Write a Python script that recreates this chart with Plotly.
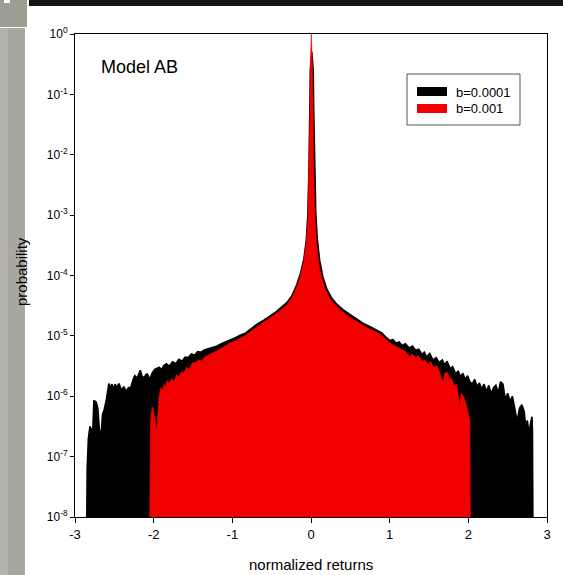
import plotly.graph_objects as go

# ---- data (x = normalized return, e = log10 probability) ----
black_x = [-2.85, -2.845, -2.83, -2.81, -2.79, -2.78, -2.76, -2.73, -2.71, -2.69, -2.67, -2.65, -2.63, -2.60,
           -2.57, -2.55, -2.53, -2.51, -2.49, -2.47, -2.44, -2.41, -2.38, -2.35, -2.32, -2.29, -2.26, -2.24,
           -2.21, -2.19, -2.17, -2.15, -2.12, -2.10, -2.08, -2.05, -2.02, -1.99, -1.96, -1.93, -1.90, -1.87,
           -1.84, -1.80, -1.76, -1.72, -1.68, -1.64, -1.60, -1.56, -1.52, -1.48, -1.44, -1.40, -1.35, -1.30,
           -1.25, -1.20, -1.14, -1.08, -1.02, -0.96, -0.90, -0.83, -0.76, -0.68, -0.60, -0.52, -0.44, -0.37,
           -0.30, -0.24, -0.18, -0.13, -0.09, -0.06, -0.04, -0.025, -0.015, -0.008, 0.01, 0.028, 0.035, 0.045,
           0.06, 0.08, 0.11, 0.15, 0.20, 0.26, 0.33, 0.41, 0.50, 0.58, 0.66, 0.74, 0.82, 0.90, 0.96, 1.00,
           1.04, 1.08, 1.12, 1.16, 1.20, 1.25, 1.29, 1.33, 1.37, 1.41, 1.44, 1.47, 1.51, 1.55, 1.59, 1.63,
           1.67, 1.70, 1.73, 1.77, 1.80, 1.84, 1.87, 1.90, 1.93, 1.96, 1.99, 2.02, 2.05, 2.08, 2.11, 2.14,
           2.17, 2.20, 2.23, 2.26, 2.29, 2.32, 2.35, 2.38, 2.41, 2.44, 2.47, 2.50, 2.53, 2.56, 2.59, 2.62,
           2.65, 2.68, 2.71, 2.73, 2.75, 2.77, 2.79, 2.81, 2.815, 2.82]
black_e = [-8.0, -7.2, -6.7, -6.5, -6.55, -6.8, -6.07, -6.1, -6.2, -6.55, -6.68, -6.3, -6.23, -6.05,
           -5.79, -5.86, -5.8, -5.88, -5.8, -5.85, -5.79, -5.9, -5.84, -5.92, -5.86, -5.85, -5.72, -5.66,
           -5.7, -5.62, -5.57, -5.66, -5.7, -5.64, -5.63, -5.72, -5.62, -5.56, -5.54, -5.52, -5.56, -5.49,
           -5.46, -5.5, -5.43, -5.46, -5.39, -5.42, -5.35, -5.36, -5.30, -5.32, -5.26, -5.27, -5.23, -5.21,
           -5.19, -5.17, -5.13, -5.10, -5.06, -5.03, -4.99, -4.95, -4.88, -4.80, -4.74, -4.67, -4.60, -4.52,
           -4.44, -4.33, -4.15, -3.95, -3.72, -3.42, -3.0, -2.2, -1.3, -0.6, -0.3, -0.6, -1.3, -2.2,
           -2.95, -3.4, -3.75, -4.02, -4.22, -4.37, -4.48, -4.57, -4.65, -4.72, -4.79, -4.84, -4.89, -4.95, -5.03, -5.08,
           -5.06, -5.12, -5.10, -5.16, -5.13, -5.20, -5.17, -5.24, -5.22, -5.31, -5.27, -5.35, -5.29, -5.40, -5.36, -5.44,
           -5.40, -5.48, -5.42, -5.55, -5.51, -5.63, -5.58, -5.68, -5.62, -5.72, -5.66, -5.76, -5.80, -5.72, -5.84, -5.78,
           -5.88, -5.80, -5.92, -5.82, -5.96, -5.86, -5.82, -5.94, -5.76, -5.80, -6.05, -5.95, -6.08, -6.00, -6.20, -6.42,
           -6.20, -6.14, -6.25, -6.52, -6.40, -6.62, -6.45, -6.34, -6.6, -8.0]

red_x = [-2.05, -2.047, -2.04, -2.025, -2.01, -1.995, -1.975, -1.96, -1.945, -1.93, -1.91, -1.89, -1.87, -1.85,
         -1.83, -1.80, -1.77, -1.74, -1.71, -1.68, -1.65, -1.62, -1.58, -1.55, -1.51, -1.47, -1.43, -1.39,
         -1.35, -1.30, -1.25, -1.20, -1.14, -1.08, -1.02, -0.96, -0.90, -0.83, -0.76, -0.68, -0.60, -0.52,
         -0.44, -0.37, -0.30, -0.24, -0.18, -0.13, -0.09, -0.06, -0.04, -0.025, -0.015, -0.008, 0.005, 0.018,
         0.025, 0.035, 0.05, 0.07, 0.10, 0.14, 0.19, 0.25, 0.32, 0.40, 0.49, 0.58, 0.66, 0.74, 0.82, 0.90,
         0.96, 1.02, 1.08, 1.14, 1.20, 1.25, 1.29, 1.33, 1.37, 1.41, 1.45, 1.49, 1.52, 1.56, 1.60, 1.63,
         1.66, 1.68, 1.70, 1.73, 1.76, 1.79, 1.82, 1.85, 1.88, 1.89, 1.91, 1.94, 1.97, 2.00, 2.02, 2.025]
red_e = [-8.0, -7.0, -6.45, -6.22, -6.18, -6.3, -6.5, -6.56, -6.25, -6.0, -5.86, -5.9, -5.8, -5.85,
         -5.74, -5.78, -5.71, -5.75, -5.64, -5.68, -5.6, -5.62, -5.52, -5.55, -5.45, -5.44, -5.40, -5.41,
         -5.35, -5.31, -5.28, -5.25, -5.20, -5.16, -5.11, -5.08, -5.04, -4.99, -4.92, -4.84, -4.77, -4.70,
         -4.63, -4.56, -4.47, -4.36, -4.18, -3.98, -3.75, -3.45, -3.05, -2.3, -1.4, -0.5, 0.0, -0.5,
         -1.4, -2.3, -3.0, -3.45, -3.8, -4.06, -4.25, -4.4, -4.5, -4.6, -4.69, -4.76, -4.83, -4.88, -4.93, -4.99,
         -5.07, -5.13, -5.17, -5.21, -5.26, -5.34, -5.30, -5.36, -5.33, -5.42, -5.40, -5.48, -5.42, -5.52, -5.50, -5.58,
         -5.70, -5.78, -5.62, -5.60, -5.68, -5.72, -5.82, -5.80, -6.05, -6.18, -5.95, -6.0, -6.12, -6.28, -6.40, -8.0]

series_names = ["b=0.0001", "b=0.001"]
series_colors = ["#000000", "#f20000"]
x_ticks = [-3, -2, -1, 0, 1, 2, 3]
y_exponents = [0, -1, -2, -3, -4, -5, -6, -7, -8]

black_p = [10 ** v for v in black_e]
red_p = [10 ** v for v in red_e]

W, H = 563, 575
# plot area in window pixels: x 75..547, y 34..517
L, R, T, B = 75, W - 547, 34, H - 517
PW, PH = W - L - R, H - T - B


def px(xw):
    """page x pixel -> paper x"""
    return (xw - L) / PW


def py(yw):
    """page y pixel -> paper y"""
    return (H - B - yw) / PH


fig = go.Figure()
fig.add_trace(go.Scatter(x=black_x, y=black_p, mode="lines", fill="toself",
                         fillcolor=series_colors[0], line=dict(color=series_colors[0], width=1.6),
                         name=series_names[0], showlegend=False, hoverinfo="skip"))
fig.add_trace(go.Scatter(x=red_x, y=red_p, mode="lines", fill="toself",
                         fillcolor=series_colors[1], line=dict(color=series_colors[1], width=0.6),
                         name=series_names[1], showlegend=False, hoverinfo="skip"))

FONT = "Liberation Sans, Arial, sans-serif"

shapes = [
    # page decoration: grey strip on the left, box top-left, dark band at top
    dict(type="rect", xref="paper", yref="paper", x0=px(0), x1=px(25), y0=py(575), y1=py(28),
         fillcolor="#b3b3ab", line=dict(width=0), layer="below"),
    dict(type="rect", xref="paper", yref="paper", x0=px(8), x1=px(25), y0=py(575), y1=py(28),
         fillcolor="#a8a8a0", line=dict(width=0), layer="below"),
    dict(type="rect", xref="paper", yref="paper", x0=px(0), x1=px(27), y0=py(27), y1=py(0),
         fillcolor="#9d9d92", line=dict(width=0), layer="below"),
    dict(type="rect", xref="paper", yref="paper", x0=px(4), x1=px(10), y0=py(3), y1=py(0),
         fillcolor="#ffffff", line=dict(width=0), layer="below"),
    dict(type="rect", xref="paper", yref="paper", x0=px(29), x1=px(563), y0=py(6), y1=py(0),
         fillcolor="#141414", line=dict(width=0), layer="below"),
    # legend box and swatches
    dict(type="rect", xref="paper", yref="paper", x0=px(407), x1=px(520), y0=py(125), y1=py(74),
         fillcolor="#ffffff", line=dict(color="#555555", width=1)),
    dict(type="rect", xref="paper", yref="paper", x0=px(417), x1=px(447), y0=py(96), y1=py(87),
         fillcolor=series_colors[0], line=dict(width=0)),
    dict(type="rect", xref="paper", yref="paper", x0=px(417), x1=px(447), y0=py(113), y1=py(104),
         fillcolor=series_colors[1], line=dict(width=0)),
]

annotations = [
    dict(text="Model AB", xref="paper", yref="paper", x=px(99), y=py(67), xanchor="left", yanchor="middle",
         showarrow=False, font=dict(family=FONT, size=18, color="#000")),
    dict(text=series_names[0], xref="paper", yref="paper", x=px(454), y=py(92), xanchor="left", yanchor="middle",
         showarrow=False, font=dict(family=FONT, size=13, color="#000")),
    dict(text=series_names[1], xref="paper", yref="paper", x=px(454), y=py(109), xanchor="left", yanchor="middle",
         showarrow=False, font=dict(family=FONT, size=13, color="#000")),
    dict(text="normalized returns", xref="paper", yref="paper", x=px(311), y=py(564), xanchor="center",
         yanchor="middle", showarrow=False, font=dict(family=FONT, size=15, color="#000")),
    dict(text="probability", xref="paper", yref="paper", x=px(21), y=py(272), xanchor="center",
         yanchor="middle", textangle=-90, showarrow=False, font=dict(family=FONT, size=15, color="#000")),
]

fig.update_layout(
    width=W, height=H,
    margin=dict(l=L, r=R, t=T, b=B, pad=0),
    paper_bgcolor="#ffffff", plot_bgcolor="#ffffff",
    showlegend=False,
    shapes=shapes, annotations=annotations,
    font=dict(family=FONT, color="#000"),
)
fig.update_xaxes(range=[-3, 3], tickvals=x_ticks, ticktext=[str(t) for t in x_ticks],
                 showgrid=False, zeroline=False, showline=True, linecolor="#000", linewidth=1,
                 mirror=True, ticks="outside", ticklen=5, tickcolor="#000",
                 tickfont=dict(family=FONT, size=13, color="#000"))
fig.update_yaxes(type="log", range=[-8, 0], tickvals=[10 ** k for k in y_exponents],
                 ticktext=["10<sup>%d</sup>" % k for k in y_exponents],
                 showgrid=False, zeroline=False, showline=True, linecolor="#000", linewidth=1,
                 mirror=True, ticks="outside", ticklen=4, tickcolor="#000",
                 tickfont=dict(family=FONT, size=12, color="#000"))

# remove the default 8 px page margin so the figure fills the window from its corner
fig.write_html("out.html",
               config={"displayModeBar": False},
               post_script="document.body.style.margin='0px';document.body.style.overflow='hidden';")
